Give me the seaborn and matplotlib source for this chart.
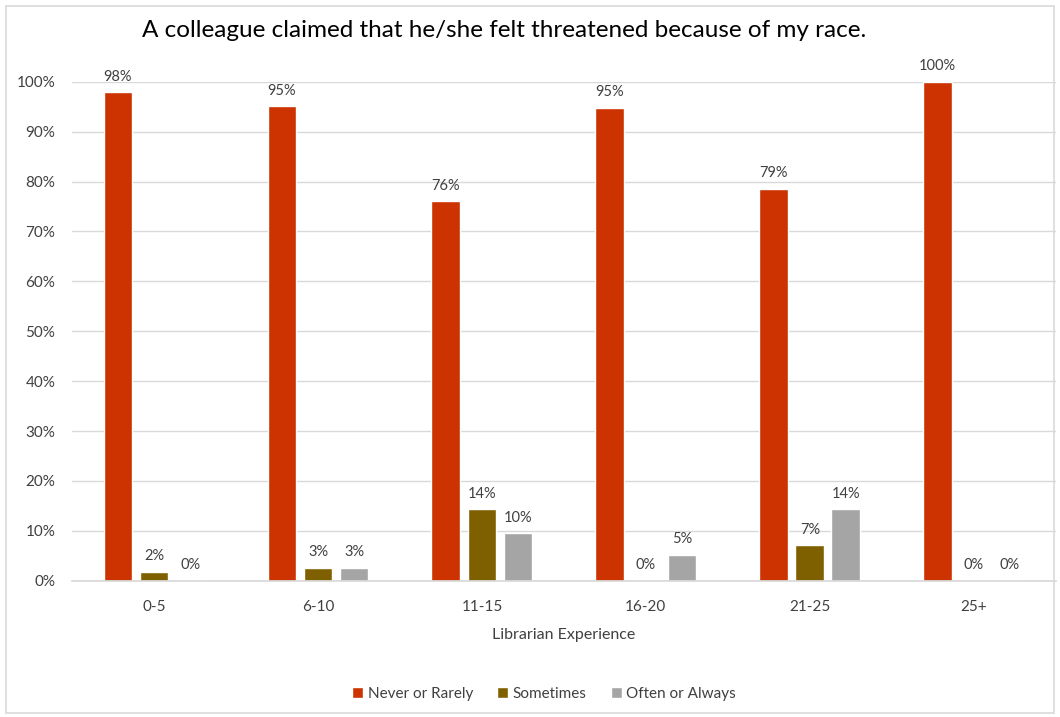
import matplotlib
matplotlib.use("Agg")
import matplotlib.pyplot as plt
from matplotlib.patches import Rectangle
from matplotlib.ticker import PercentFormatter
import pandas as pd
import seaborn as sns

experience = ["0-5", "6-10", "11-15", "16-20", "21-25", "25+"]
never_or_rarely = [0.979, 0.951, 0.761, 0.948, 0.786, 1.000]
sometimes = [0.018, 0.026, 0.143, 0.0, 0.071, 0.0]
often_or_always = [0.0, 0.026, 0.095, 0.052, 0.143, 0.0]
series_names = ["Never or Rarely", "Sometimes", "Often or Always"]
palette = ["#CC3300", "#7F6000", "#A5A5A5"]

df = pd.DataFrame({
    "Librarian Experience": experience * 3,
    "Response": [series_names[0]] * 6 + [series_names[1]] * 6 + [series_names[2]] * 6,
    "Share": never_or_rarely + sometimes + often_or_always,
})

sns.set_theme(style="white")
plt.rcParams["font.family"] = ["Lato", "DejaVu Sans"]

fig = plt.figure(figsize=(10.6, 7.17), dpi=100)
ax = fig.add_axes([0.068, 0.19, 0.928, 0.696])

sns.barplot(data=df, x="Librarian Experience", y="Share", hue="Response",
            order=experience, hue_order=series_names, palette=palette,
            width=0.66, gap=0.2, saturation=1, ax=ax, errorbar=None)

for container in ax.containers:
    ax.bar_label(container, labels=[f"{v * 100:.0f}%" for v in container.datavalues],
                 padding=6, fontsize=10.5, color="#404040")

ax.set_ylim(0, 1.0)
ax.set_yticks([i / 10 for i in range(11)])
ax.yaxis.set_major_formatter(PercentFormatter(1.0, decimals=0))
ax.grid(axis="y", color="#D9D9D9", linewidth=1)
ax.set_axisbelow(True)
for side in ["left", "right", "top"]:
    ax.spines[side].set_visible(False)
ax.spines["bottom"].set_color("#D9D9D9")
ax.tick_params(axis="both", length=0, labelsize=11, labelcolor="#404040")
ax.tick_params(axis="x", pad=14)
ax.tick_params(axis="y", pad=12)
ax.set_ylabel("")
ax.set_xlabel("Librarian Experience", fontsize=11.5, color="#404040", labelpad=10)

ax.legend(loc="upper center", bbox_to_anchor=(0.48, -0.185), ncol=3, frameon=False,
          fontsize=11, handlelength=0.7, handleheight=0.7, handletextpad=0.3,
          columnspacing=1.6, labelcolor="#404040")

fig.text(0.476, 0.958, "A colleague claimed that he/she felt threatened because of my race.",
         ha="center", va="center", fontsize=17.5, color="#000000")

fig.patches.append(Rectangle((0.006, 0.006), 0.988, 0.986, transform=fig.transFigure,
                             fill=False, edgecolor="#D9D9D9", linewidth=1.2))

fig.savefig("out.png", dpi=100, facecolor="white")
